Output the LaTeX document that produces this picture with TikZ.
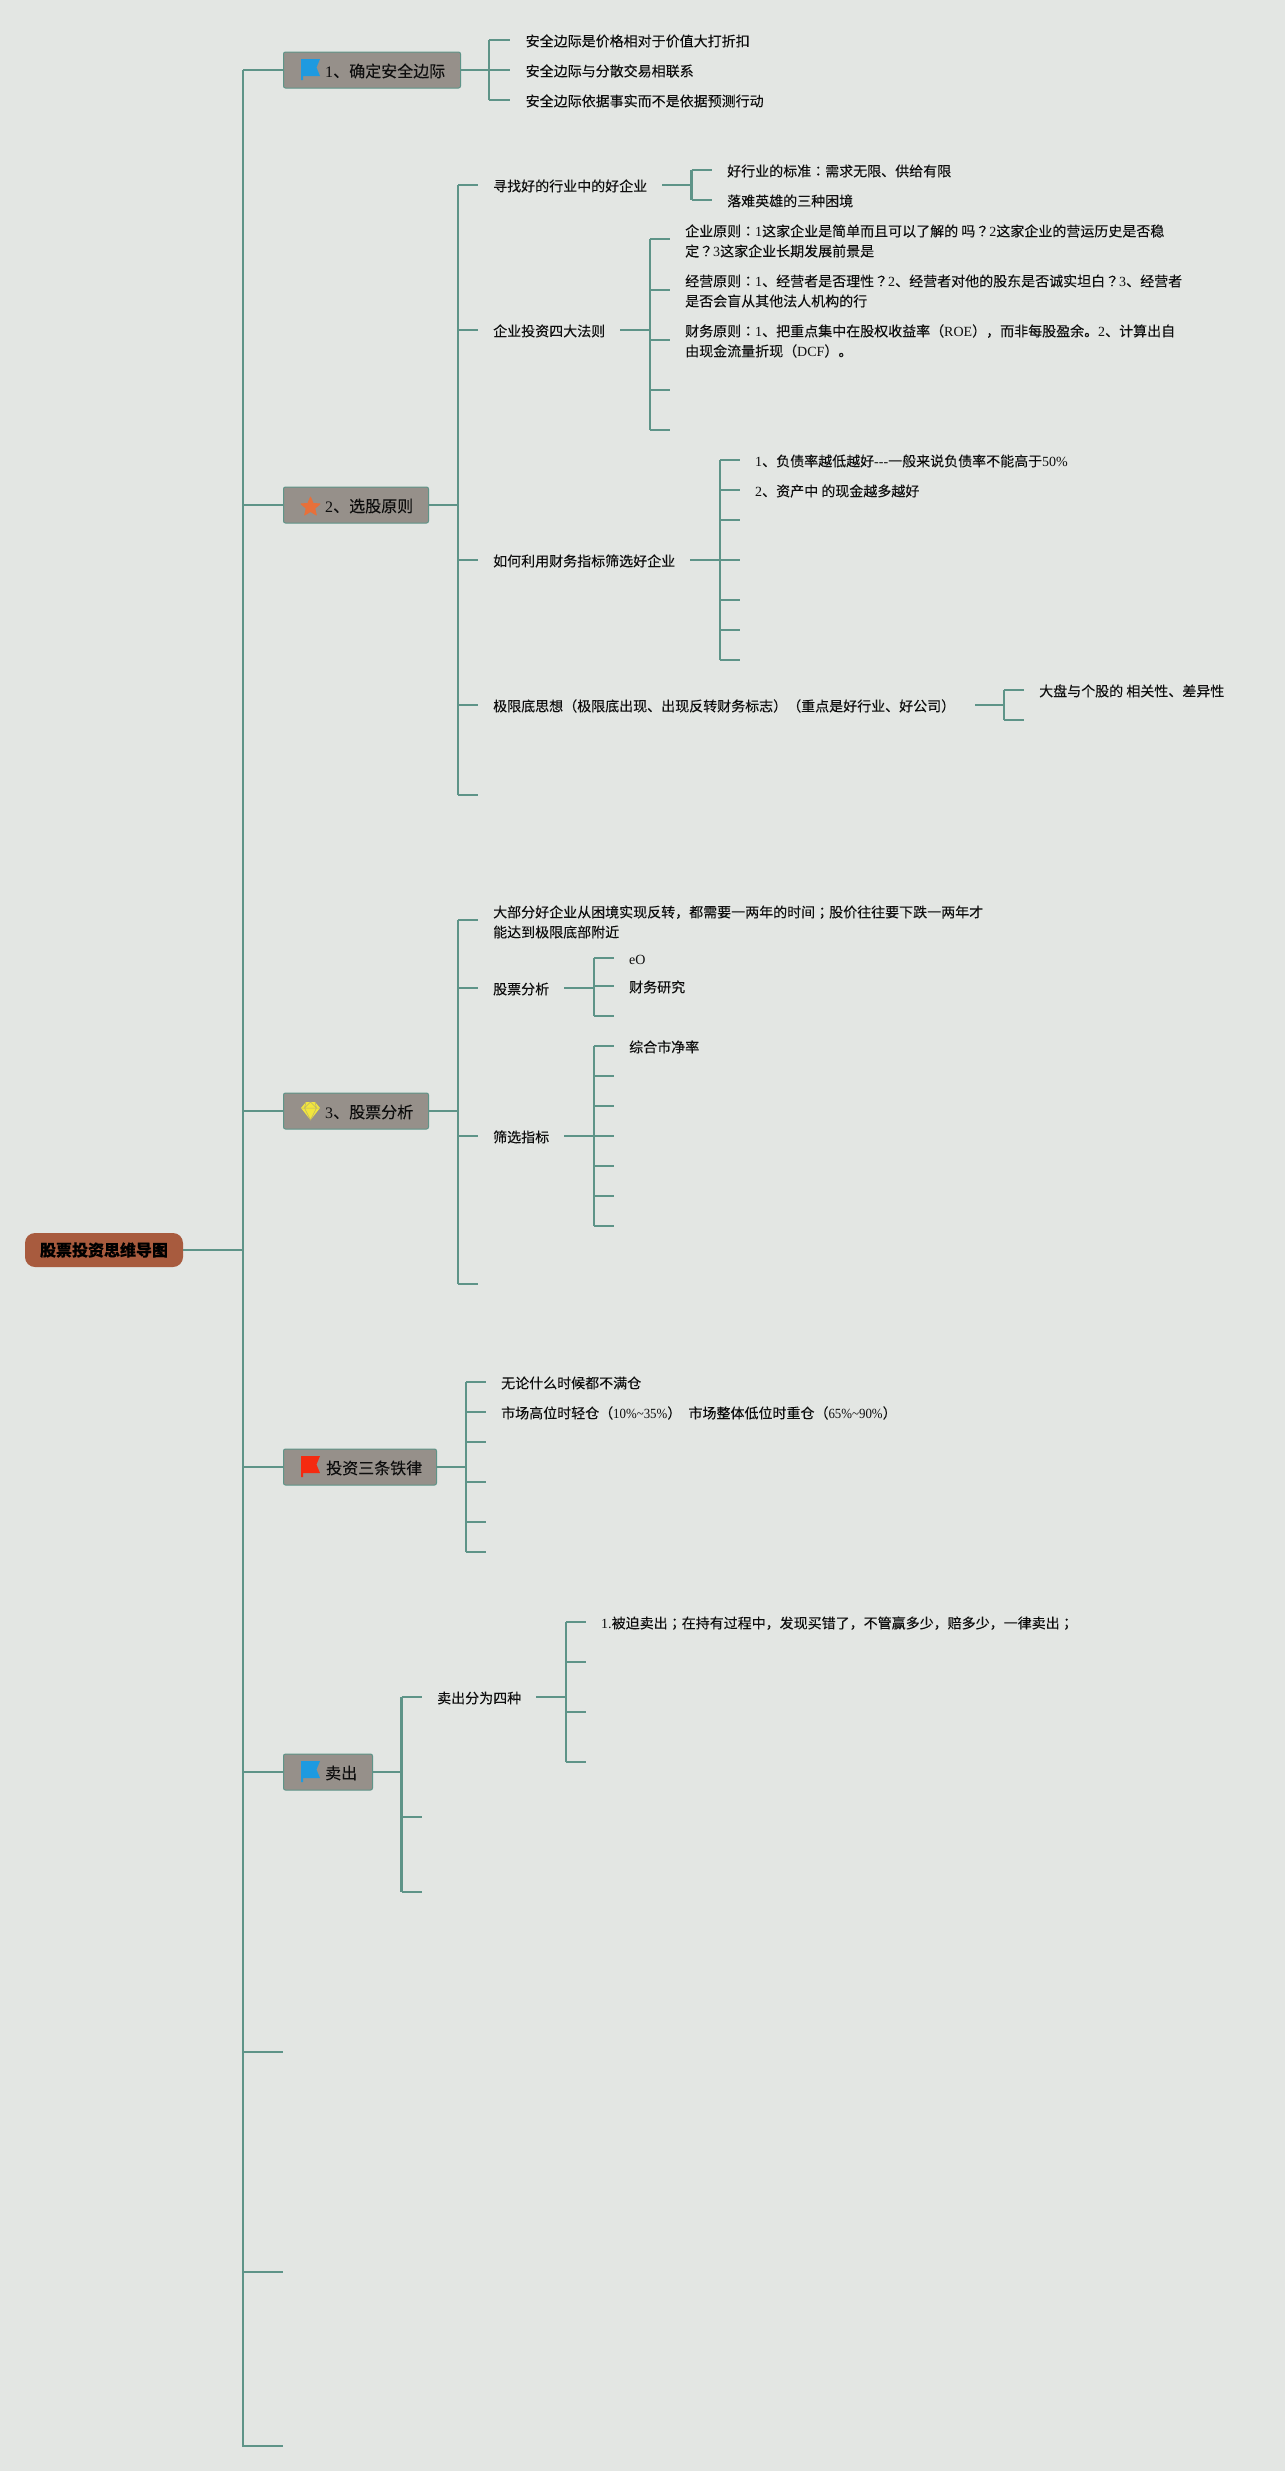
\documentclass[tikz,border=0pt]{standalone}
\usepackage{fontspec}
\setmainfont{Noto Sans CJK SC}[FakeBold=0.06]
\newfontfamily\latf{Liberation Serif}
\newfontfamily\latn{Liberation Serif}[FakeStretch=0.92]
\newfontfamily\tcf{Noto Sans CJK TC}[FakeBold=0.06]
\newcommand{\Lt}[1]{{\latf #1}}
\newcommand{\Ls}[1]{{\latn #1}}
\newcommand{\Cp}[1]{{\tcf #1}}
\definecolor{bgc}{HTML}{E3E6E3}
\definecolor{linec}{HTML}{5E9488}
\definecolor{boxc}{HTML}{96908A}
\definecolor{rootc}{HTML}{A85B3E}
\definecolor{flagblue}{HTML}{1E9AE0}
\definecolor{flagred}{HTML}{F52A10}
\definecolor{starc}{HTML}{E8703A}
\definecolor{gemc}{HTML}{F2E63C}
\definecolor{inkc}{HTML}{0E0E0E}
\tikzset{
  conn/.style={draw=linec,line width=2.3pt,line cap=butt,line join=miter},
  rootbox/.style={draw=none,fill=rootc,rounded corners=10pt,minimum height=34pt,inner sep=0,text=black,font=\fontsize{16}{18}\selectfont\bfseries},
  topicbox/.style={draw=linec,line width=1pt,fill=boxc,rounded corners=2pt,minimum height=36pt,inner sep=0,anchor=west},
  topictext/.style={anchor=west,inner sep=0,text=inkc,font=\fontsize{16}{20}\selectfont},
  leaf/.style={anchor=west,inner xsep=15pt,inner ysep=0,text=inkc,font=\fontsize{14}{20}\selectfont,text height=14.6pt,text depth=2pt},
  multi/.style={anchor=west,inner xsep=15pt,inner ysep=0,text=inkc,align=left,font=\fontsize{14}{20}\selectfont},
  pics/flagicon/.style={code={
    \fill[#1] (0,0) -- (19,0) -- (15.5,8.5) -- (19,17) -- (2,17) -- (2,21) -- (0,21) -- cycle;
  }},
}
\begin{document}
\begin{tikzpicture}[x=1pt,y=-1pt]
\useasboundingbox[fill=bgc] (0,0) rectangle (1285,2471);
% spine
\coordinate (sTop) at (243,70);
\coordinate (sBot) at (243,2447);
\draw[conn] (sTop) -- (sBot);
% root
\node[rootbox,minimum width=158pt] (root) at (104,1250) {股票投资思维导图};
\draw[conn] (root.east) -- (root.east -| sTop);
% topic boxes
\node[topicbox,minimum width=177pt] (t1) at (283,70) {};
\node[topicbox,minimum width=145pt] (t2) at (283,505) {};
\node[topicbox,minimum width=145pt] (t3) at (283,1111) {};
\node[topicbox,minimum width=153pt] (t4) at (283,1467) {};
\node[topicbox,minimum width=89pt] (t5) at (283,1772) {};
\foreach \n in {t1,t2,t3,t4,t5}{\draw[conn] (\n.west -| sTop) -- (\n.west);}
\node[topictext] (t1l) at (325,71) {\Lt{1}、确定安全边际};
\node[topictext] (t2l) at (325,506) {\Lt{2}、选股原则};
\node[topictext] (t3l) at (325,1112) {\Lt{3}、股票分析};
\node[topictext] (t4l) at (326,1468) {投资三条铁律};
\node[topictext] (t5l) at (325,1773) {卖出};
% icons
\pic at (301,59) {flagicon=flagblue};
\pic at (301,1456) {flagicon=flagred};
\pic at (301,1761) {flagicon=flagblue};
\begin{scope}[shift={(310.5,507)}]
\fill[starc,draw=starc,line width=0.8pt,line join=round] (0,-10) -- (2.65,-3.64) -- (9.51,-3.09) -- (4.28,1.39) -- (5.88,8.09) -- (0,4.5) -- (-5.88,8.09) -- (-4.28,1.39) -- (-9.51,-3.09) -- (-2.65,-3.64) -- cycle;
\end{scope}
\fill[gemc] (306,1102) -- (315,1102) -- (320,1108) -- (310.5,1120) -- (301,1108) -- cycle;
\draw[boxc!60!gemc,line width=0.5pt] (301,1108) -- (320,1108) (306,1102) -- (304.5,1108) -- (310.5,1120) -- (316.5,1108) -- (315,1102) (310.5,1102) -- (304.5,1108) (310.5,1102) -- (316.5,1108);
% extra stubs on spine
\foreach \i/\y in {a/2052,b/2272,c/2446}{
  \coordinate (e\i) at (283,\y);
  \draw[conn] (e\i -| sTop) -- (e\i);
}
% Branch 1
\coordinate (b1) at (489,70);
\draw[conn] (t1.east) -- (b1);
\node[leaf,inner xsep=15.5pt] (b1a) at (510,40) {安全边际是价格相对于价值大打折扣};
\node[leaf,inner xsep=15.5pt] (b1b) at (510,70) {安全边际与分散交易相联系};
\node[leaf,inner xsep=15.5pt] (b1c) at (510,100) {安全边际依据事实而不是依据预测行动};
\draw[conn] (b1a.west -| b1) -- (b1c.west -| b1);
\foreach \n in {b1a,b1b,b1c}{\draw[conn] (\n.west -| b1) -- (\n.west);}
% Branch 2
\coordinate (b2) at (458,505);
\draw[conn] (t2.east) -- (b2);
\node[leaf] (c1) at (478,185) {寻找好的行业中的好企业};
\node[leaf] (c2) at (478,330) {企业投资四大法则};
\node[leaf] (c3) at (478,560) {如何利用财务指标筛选好企业};
\node[leaf] (c4) at (478,705) {极限底思想（极限底出现、出现反转财务标志）（重点是好行业、好公司）};
\coordinate (c5) at (478,795);
\draw[conn] (c1.west -| b2) -- (c5 -| b2);
\foreach \n in {c1.west,c2.west,c3.west,c4.west,c5}{\draw[conn] (\n -| b2) -- (\n);}
% c1
\coordinate (d1) at (691.5,185);
\draw[conn] (c1.east) -- (d1);
\node[leaf] (d1a) at (712,170) {好行业的标准\Cp{：}需求无限、供给有限};
\node[leaf] (d1b) at (712,200) {落难英雄的三种困境};
\draw[conn] (d1a.west -| d1) -- (d1b.west -| d1);
\foreach \n in {d1a,d1b}{\draw[conn] (\n.west -| d1) -- (\n.west);}
% c2
\coordinate (d2) at (650,330);
\draw[conn] (c2.east) -- (d2);
\coordinate (d2as) at (670,239);
\coordinate (d2bs) at (670,290);
\coordinate (d2cs) at (670,340);
\coordinate (d2d) at (670,390);
\coordinate (d2e) at (670,430);
\node[multi] (d2a) at (670,241) {企业原则\Cp{：}\Lt{1}这家企业是简单而且可以了解的 吗\Cp{？}\Lt{2}这家企业的营运历史是否稳\\定\Cp{？}\Lt{3}这家企业长期发展前景是};
\node[multi] (d2b) at (670,291) {经营原则\Cp{：}\Lt{1}、经营者是否理性\Cp{？}\Lt{2}、经营者对他的股东是否诚实坦白\Cp{？}\Lt{3}、经营者\\是否会盲从其他法人机构的行};
\node[multi] (d2c) at (670,341) {财务原则\Cp{：}\Lt{1}、把重点集中在股权收益率（\Lt{ROE}），而非每股盈余。\Lt{2}、计算出自\\由现金流量折现（\Lt{DCF}）。};
\draw[conn] (d2as -| d2) -- (d2e -| d2);
\foreach \n in {d2as,d2bs,d2cs,d2d,d2e}{\draw[conn] (\n -| d2) -- (\n);}
% c3
\coordinate (d3) at (720,560);
\draw[conn] (c3.east) -- (d3);
\node[leaf] (d3a) at (740,460) {\Lt{1}、负债率越低越好\Lt{---}一般来说负债率不能高于\Lt{50\%}};
\node[leaf] (d3b) at (740,490) {\Lt{2}、资产中 的现金越多越好};
\coordinate (d3c) at (740,520);
\coordinate (d3d) at (740,560);
\coordinate (d3e) at (740,600);
\coordinate (d3f) at (740,630);
\coordinate (d3g) at (740,660);
\draw[conn] (d3a.west -| d3) -- (d3g -| d3);
\foreach \n in {d3a.west,d3b.west,d3c,d3d,d3e,d3f,d3g}{\draw[conn] (\n -| d3) -- (\n);}
% c4
\coordinate (d4) at (1004,705);
\draw[conn] ([xshift=5pt]c4.east) -- (d4);
\node[leaf] (d4a) at (1024,690) {大盘与个股的 相关性、差异性};
\coordinate (d4b) at (1024,720);
\draw[conn] (d4a.west -| d4) -- (d4b -| d4);
\foreach \n in {d4a.west,d4b}{\draw[conn] (\n -| d4) -- (\n);}
% Branch 3
\coordinate (b3) at (458,1111);
\draw[conn] (t3.east) -- (b3);
\coordinate (f1s) at (478,920);
\node[multi] (f1) at (478,922) {大部分好企业从困境实现反转，都需要一两年的时间\Cp{；}股价往往要下跌一两年才\\能达到极限底部附近};
\node[leaf] (f2) at (478,988) {股票分析};
\node[leaf] (f3) at (478,1136) {筛选指标};
\coordinate (f4) at (478,1284);
\draw[conn] (f1s -| b3) -- (f4 -| b3);
\foreach \n in {f1s,f2.west,f3.west,f4}{\draw[conn] (\n -| b3) -- (\n);}
\coordinate (g2) at (594,988);
\draw[conn] (f2.east) -- (g2);
\node[leaf] (g2a) at (614,958) {\Lt{eO}};
\node[leaf] (g2b) at (614,986) {财务研究};
\coordinate (g2c) at (614,1016);
\draw[conn] (g2a.west -| g2) -- (g2c -| g2);
\foreach \n in {g2a.west,g2b.west,g2c}{\draw[conn] (\n -| g2) -- (\n);}
\coordinate (g3) at (594,1136);
\draw[conn] (f3.east) -- (g3);
\node[leaf] (g3a) at (614,1046) {综合市净率};
\foreach \i/\y in {b/1076,c/1106,d/1136,e/1166,f/1196,g/1226}{\coordinate (g3\i) at (614,\y);}
\draw[conn] (g3a.west -| g3) -- (g3g -| g3);
\foreach \n in {g3a.west,g3b,g3c,g3d,g3e,g3f,g3g}{\draw[conn] (\n -| g3) -- (\n);}
% Branch 4
\coordinate (b4) at (466,1467);
\draw[conn] (t4.east) -- (b4);
\node[leaf] (h1) at (486,1382) {无论什么时候都不满仓};
\node[leaf] (h2) at (486,1412) {市场高位时轻仓（\Ls{10\%\textasciitilde35\%}） \hspace{4pt}市场整体低位时重仓（\Ls{65\%\textasciitilde90\%}）};
\foreach \i/\y in {3/1442,4/1482,5/1522,6/1552}{\coordinate (h\i) at (486,\y);}
\draw[conn] (h1.west -| b4) -- (h6 -| b4);
\foreach \n in {h1.west,h2.west,h3,h4,h5,h6}{\draw[conn] (\n -| b4) -- (\n);}
% Branch 5
\coordinate (b5) at (401.5,1772);
\draw[conn] (t5.east) -- (b5);
\node[leaf] (k1) at (422,1697) {卖出分为四种};
\coordinate (k2) at (422,1817);
\coordinate (k3) at (422,1892);
\draw[conn] (k1.west -| b5) -- (k3 -| b5);
\foreach \n in {k1.west,k2,k3}{\draw[conn] (\n -| b5) -- (\n);}
\coordinate (m) at (566,1697);
\draw[conn] (k1.east) -- (m);
\node[leaf] (m1) at (586,1622) {\Lt{1.}被迫卖出\Cp{；}在持有过程中，发现买错了，不管赢多少，赔多少，一律卖出\Cp{；}};
\foreach \i/\y in {2/1662,3/1712,4/1762}{\coordinate (m\i) at (586,\y);}
\draw[conn] (m1.west -| m) -- (m4 -| m);
\foreach \n in {m1.west,m2,m3,m4}{\draw[conn] (\n -| m) -- (\n);}
\end{tikzpicture}
\end{document}
